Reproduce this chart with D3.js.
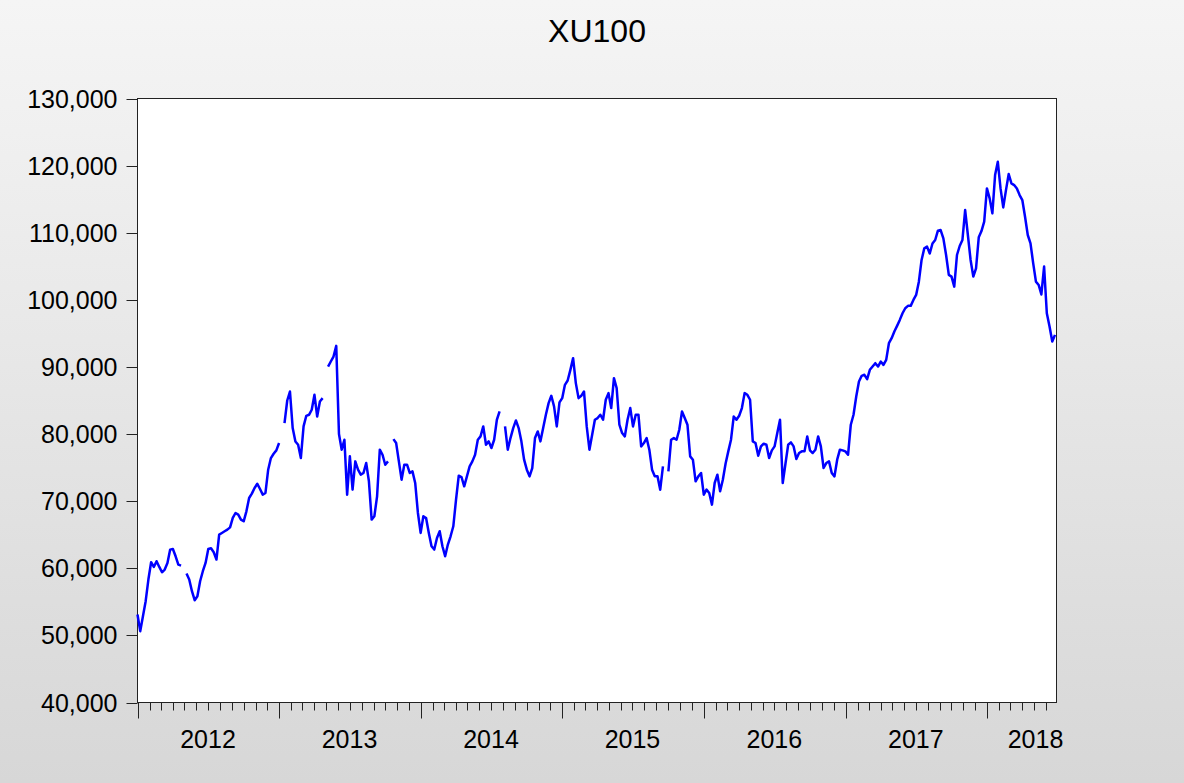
<!DOCTYPE html>
<html>
<head>
<meta charset="utf-8">
<script src="https://cdn.jsdelivr.net/npm/d3@7"></script>
<style>
  body { margin: 0; }
  svg { display: block; }
</style>
</head>
<body>
<script>
// chart data (weekly points from Jan 2012, null = missing)
var title = "XU100";
var seriesStart = new Date(2012, 0, 1);
var axisEnd = new Date(2018, 5, 29);
var values = [
  53110, 50630, 52860, 55100, 58320, 60900, 60200, 61050, 60200, 59410,
  59810, 60800, 62780, 62880, 61790, 60550, 60400, null, 59210, 58320,
  56580, 55240, 55840, 58070, 59560, 60800, 62880, 62980, 62390, 61300,
  65020, 65260, 65510, 65760, 66100, 67500, 68240, 67990, 67250, 67000,
  68490, 70470, 71120, 71960, 72600, 71810, 70970, 71220, 74690, 76420,
  77070, 77570, 78660, null, 81630, 85000, 86340, 80890, 78900, 78410,
  76420, 81140, 82720, 82870, 83620, 85850, 82620, 84860, 85350, null,
  90060, 90810, 91550, 93140, 80000, 77670, 79150, 70970, 76680, 71720,
  75930, 74690, 73950, 74200, 75680, 72960, 67250, 67750, 70720, 77670,
  76920, 75430, 75930, null, 79250, 78660, 75930, 73200, 75430, 75430,
  74200, 74440, 72710, 68240, 65270, 67750, 67500, 65270, 63280, 62790,
  64520, 65520, 63280, 61800, 63530, 64770, 66260, 70230, 73800, 73600,
  72210, 73700, 75190, 75930, 76920, 79150, 79650, 81140, 78410, 78910,
  77920, 79150, 82130, 83370, null, 81140, 77670, 79400, 80890, 82030,
  80890, 78910, 76180, 74690, 73700, 74940, 79400, 80390, 78910, 80890,
  82880, 84610, 85700, 84120, 81140, 84710, 85350, 87340, 87980, 89570,
  91310, 87590, 85350, 85700, 86350, 81140, 77670, 79900, 82130, 82380,
  82880, 82130, 85110, 86100, 83870, 88330, 86840, 81390, 80150, 79650,
  82130, 83870, 81140, 82880, 82880, 78160, 78660, 79400, 77670, 74690,
  73700, 73700, 71715, 75190, null, 74440, 79155, 79400, 79155, 80640,
  83370, 82380, 81390, 76675, 76180, 72955, 73700, 74195, 70970, 71715,
  71220, 69480, 72705, 73945, 71470, 73200, 75580, 77420, 79155, 82625,
  82130, 82730, 83870, 86100, 85850, 85110, 78910, 78660, 76770, 78160,
  78560, 78410, 76430, 77570, 78160, 80150, 82130, 72705, 75580, 78410,
  78760, 78160, 76280, 77170, 77420, 77420, 79650, 77570, 77170, 77670,
  79650, 78160, 74940, 75680, 75930, 74195, 73700, 76180, 77670, 77570,
  77420, 76920, 81390, 82875, 85600, 87835, 88680, 88830, 88180, 89570,
  90065, 90560, 90060, 90800, 90310, 91050, 93540, 94280, 95275, 96120,
  97010, 98000, 98750, 99100, 99100, 99990, 100730, 102710, 105940, 107675,
  107925, 106900, 108400, 108915, 110300, 110400, 109160, 106680, 103710, 103460,
  101970, 106680, 108020, 108915, 113380, 109660, 105940, 103460, 104700, 109310,
  110250, 111645, 116600, 115115, 112880, 118590, 120570, 116600, 113775, 116355,
  118740, 117350, 117100, 116600, 115610, 114870, 112390, 109660, 108420, 105440,
  102715, 102220, 100800, 104950, 98000, 96020, 93790, 94780
];
var yTicks = [40000, 50000, 60000, 70000, 80000, 90000, 100000, 110000, 120000, 130000];
var years = [2012, 2013, 2014, 2015, 2016, 2017, 2018];

var width = 1184, height = 783;
var plotLeft = 137.5, plotRight = 1056.5, plotTop = 98.5, plotBottom = 702.5;
var weekMs = 365.25 / 52 * 864e5;

var data = values.map(function(v, i) {
  return { date: new Date(seriesStart.getTime() + i * weekMs), value: v };
});

var svg = d3.select("body").append("svg")
    .attr("width", width)
    .attr("height", height)
    .style("font-family", "'Liberation Sans', Arial, sans-serif");

// background gradient
var grad = svg.append("defs").append("linearGradient")
    .attr("id", "bg")
    .attr("x1", 0).attr("y1", 0).attr("x2", 0).attr("y2", 1);
grad.append("stop").attr("offset", "0%").attr("stop-color", "#f5f5f5");
grad.append("stop").attr("offset", "100%").attr("stop-color", "#d7d7d7");

svg.append("rect")
    .attr("width", width)
    .attr("height", height)
    .attr("fill", "url(#bg)");

var x = d3.scaleTime()
    .domain([seriesStart, axisEnd])
    .range([plotLeft, plotRight]);

var y = d3.scaleLinear()
    .domain([40000, 130000])
    .range([plotBottom, plotTop]);

// plot area
svg.append("rect")
    .attr("x", plotLeft)
    .attr("y", plotTop)
    .attr("width", plotRight - plotLeft)
    .attr("height", plotBottom - plotTop)
    .attr("fill", "#fff")
    .attr("stroke", "#222")
    .attr("stroke-width", 1);

// title
svg.append("text")
    .attr("x", (plotLeft + plotRight) / 2)
    .attr("y", 42)
    .attr("text-anchor", "middle")
    .attr("font-size", 32)
    .attr("fill", "#000")
    .text(title);

// y axis
var yAxis = svg.append("g").attr("class", "y-axis");
yAxis.selectAll("line")
    .data(yTicks)
  .enter().append("line")
    .attr("x1", plotLeft - 11)
    .attr("x2", plotLeft)
    .attr("y1", function(d) { return Math.round(y(d)) + 0.5; })
    .attr("y2", function(d) { return Math.round(y(d)) + 0.5; })
    .attr("stroke", "#222");
yAxis.selectAll("text")
    .data(yTicks)
  .enter().append("text")
    .attr("x", plotLeft - 20)
    .attr("y", function(d) { return y(d); })
    .attr("dy", "0.36em")
    .attr("text-anchor", "end")
    .attr("font-size", 25)
    .attr("fill", "#000")
    .text(d3.format(","));

// x axis: monthly minor ticks, yearly major ticks
var xAxis = svg.append("g").attr("class", "x-axis");
xAxis.selectAll("line.minor")
    .data(d3.timeMonth.range(seriesStart, axisEnd))
  .enter().append("line")
    .attr("class", "minor")
    .attr("x1", function(d) { return Math.round(x(d)) + 0.5; })
    .attr("x2", function(d) { return Math.round(x(d)) + 0.5; })
    .attr("y1", plotBottom)
    .attr("y2", function(d) { return d.getMonth() === 0 ? plotBottom + 16 : plotBottom + 8; })
    .attr("stroke", "#222");

xAxis.selectAll("text")
    .data(years)
  .enter().append("text")
    .attr("x", function(d) {
      var mid = x(new Date(d, 6, 1));
      return Math.min(mid, plotRight + 7 - 28);
    })
    .attr("y", 748)
    .attr("text-anchor", "middle")
    .attr("font-size", 25)
    .attr("fill", "#000")
    .text(function(d) { return d; });

// series line
var line = d3.line()
    .defined(function(d) { return d.value !== null; })
    .x(function(d) { return x(d.date); })
    .y(function(d) { return y(d.value); });

svg.append("path")
    .datum(data)
    .attr("fill", "none")
    .attr("stroke", "#0000ff")
    .attr("stroke-width", 2.5)
    .attr("stroke-linejoin", "round")
    .attr("d", line);
</script>
</body>
</html>
